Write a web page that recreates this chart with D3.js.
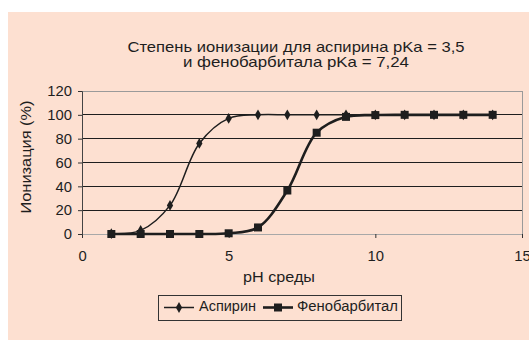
<!DOCTYPE html>
<html>
<head>
<meta charset="utf-8">
<script src="https://cdn.jsdelivr.net/npm/d3@7"></script>
<style>
  body { margin: 0; background: #fff; }
  text { font-family: "Liberation Sans", Arial, sans-serif; fill: #1e1e1e; }
</style>
</head>
<body>
<svg id="chart" width="529" height="340"></svg>
<script>
// pH of the medium
const phValues = [1, 2, 3, 4, 5, 6, 7, 8, 9, 10, 11, 12, 13, 14];
// Ionized fraction, %
const aspirin = [0.3, 3, 24, 76, 97, 100, 100, 100, 100, 100, 100, 100, 100, 100];
const phenobarbital = [0, 0, 0, 0, 0.6, 5.5, 36.5, 85, 98.3, 99.8, 100, 100, 100, 100];
const xTicks = [0, 5, 10, 15];
const yTicks = [0, 20, 40, 60, 80, 100, 120];
const titleLines = ["Степень ионизации для аспирина pKa = 3,5", "и фенобарбитала pKa = 7,24"];
const seriesNames = ["Аспирин", "Фенобарбитал"];

const svg = d3.select("#chart");

// fix a text run to a given width
function fit(sel, w) {
  return sel.attr("textLength", w).attr("lengthAdjust", "spacingAndGlyphs");
}

// peach panel
svg.append("rect").attr("x", 8).attr("y", 12).attr("width", 521).attr("height", 328)
  .attr("fill", "#fde0d1");

const plot = { left: 82, right: 522, top: 91, bottom: 234 };
const x = d3.scaleLinear().domain([0, 15]).range([plot.left, plot.right]);
const y = d3.scaleLinear().domain([0, 120]).range([plot.bottom, plot.top]);

// title, two centred lines
const titleWidths = [337, 226];
titleLines.forEach((s, i) => {
  fit(svg.append("text").attr("x", 296).attr("y", 51.5 + i * 15.5)
    .attr("text-anchor", "middle").attr("font-size", 14.5).text(s), titleWidths[i]);
});

// gridlines
svg.append("g").selectAll("line").data(yTicks.filter(v => v > 0 && v < 120)).join("line")
  .attr("x1", plot.left).attr("x2", plot.right)
  .attr("y1", d => y(d)).attr("y2", d => y(d))
  .attr("stroke", "#1e1e1e").attr("stroke-width", 1).attr("shape-rendering", "crispEdges");

// top and right frame
svg.append("path")
  .attr("d", `M${plot.left},${y(120)}H${plot.right}V${plot.bottom}`)
  .attr("fill", "none").attr("stroke", "#9a9a9a").attr("shape-rendering", "crispEdges");

// x axis
const xAxis = svg.append("g").attr("transform", `translate(0,${plot.bottom})`)
  .call(d3.axisBottom(x).tickValues(xTicks).tickSize(4).tickPadding(12));
xAxis.select(".domain").attr("stroke", "#a8a8a8").attr("d", `M${plot.left},0.5H${plot.right}`);
xAxis.selectAll(".tick line").attr("stroke", "#333");
xAxis.selectAll("text").attr("font-size", 14.8).attr("font-family", "Liberation Sans, Arial, sans-serif").attr("fill", "#1e1e1e");

// y axis
const yAxis = svg.append("g").attr("transform", `translate(${plot.left},0)`)
  .call(d3.axisLeft(y).tickValues(yTicks).tickSize(4).tickPadding(6));
yAxis.select(".domain").attr("stroke", "#444");
yAxis.selectAll(".tick line").attr("stroke", "#333");
yAxis.selectAll("text").attr("font-size", 14.8).attr("font-family", "Liberation Sans, Arial, sans-serif").attr("fill", "#1e1e1e");

// axis titles
fit(svg.append("text").attr("x", 279).attr("y", 282).attr("text-anchor", "middle")
  .attr("font-size", 14.5).text("pH среды"), 72);
fit(svg.append("text").attr("transform", "translate(31,157) rotate(-90)")
  .attr("text-anchor", "middle").attr("font-size", 14.5).text("Ионизация (%)"), 113);

const line = d3.line().curve(d3.curveCatmullRom.alpha(0.5))
  .x(d => x(d[0])).y(d => y(d[1]));

const aspData = phValues.map((p, i) => [p, aspirin[i]]);
const phbData = phValues.map((p, i) => [p, phenobarbital[i]]);

const diamond = d3.symbol().type(d3.symbolDiamond).size(34);
const square = d3.symbol().type(d3.symbolSquare).size(64);

// aspirin
svg.append("path").datum(aspData).attr("d", line)
  .attr("fill", "none").attr("stroke", "#1e1e1e").attr("stroke-width", 1.5);
svg.append("g").selectAll("path").data(aspData).join("path")
  .attr("transform", d => `translate(${x(d[0])},${y(d[1])})`)
  .attr("d", diamond).attr("fill", "#1e1e1e");

// phenobarbital
svg.append("path").datum(phbData).attr("d", line)
  .attr("fill", "none").attr("stroke", "#1e1e1e").attr("stroke-width", 2.6);
svg.append("g").selectAll("path").data(phbData).join("path")
  .attr("transform", d => `translate(${x(d[0])},${y(d[1])})`)
  .attr("d", square).attr("fill", "#1e1e1e");

// legend
const lg = svg.append("g");
lg.append("rect").attr("x", 158.5).attr("y", 295.5).attr("width", 243).attr("height", 25)
  .attr("fill", "none").attr("stroke", "#333");
const items = [
  { name: seriesNames[0], x0: 164, sym: diamond, w: 1.5, tx: 199, tw: 57 },
  { name: seriesNames[1], x0: 263, sym: square, w: 2.6, tx: 297, tw: 101 }
];
items.forEach(it => {
  lg.append("line").attr("x1", it.x0).attr("x2", it.x0 + 30).attr("y1", 307.5).attr("y2", 307.5)
    .attr("stroke", "#1e1e1e").attr("stroke-width", it.w);
  lg.append("path").attr("transform", `translate(${it.x0 + 15},307.5)`).attr("d", it.sym).attr("fill", "#1e1e1e");
  fit(lg.append("text").attr("x", it.tx).attr("y", 310.5).attr("font-size", 14).text(it.name), it.tw);
});
</script>
</body>
</html>
